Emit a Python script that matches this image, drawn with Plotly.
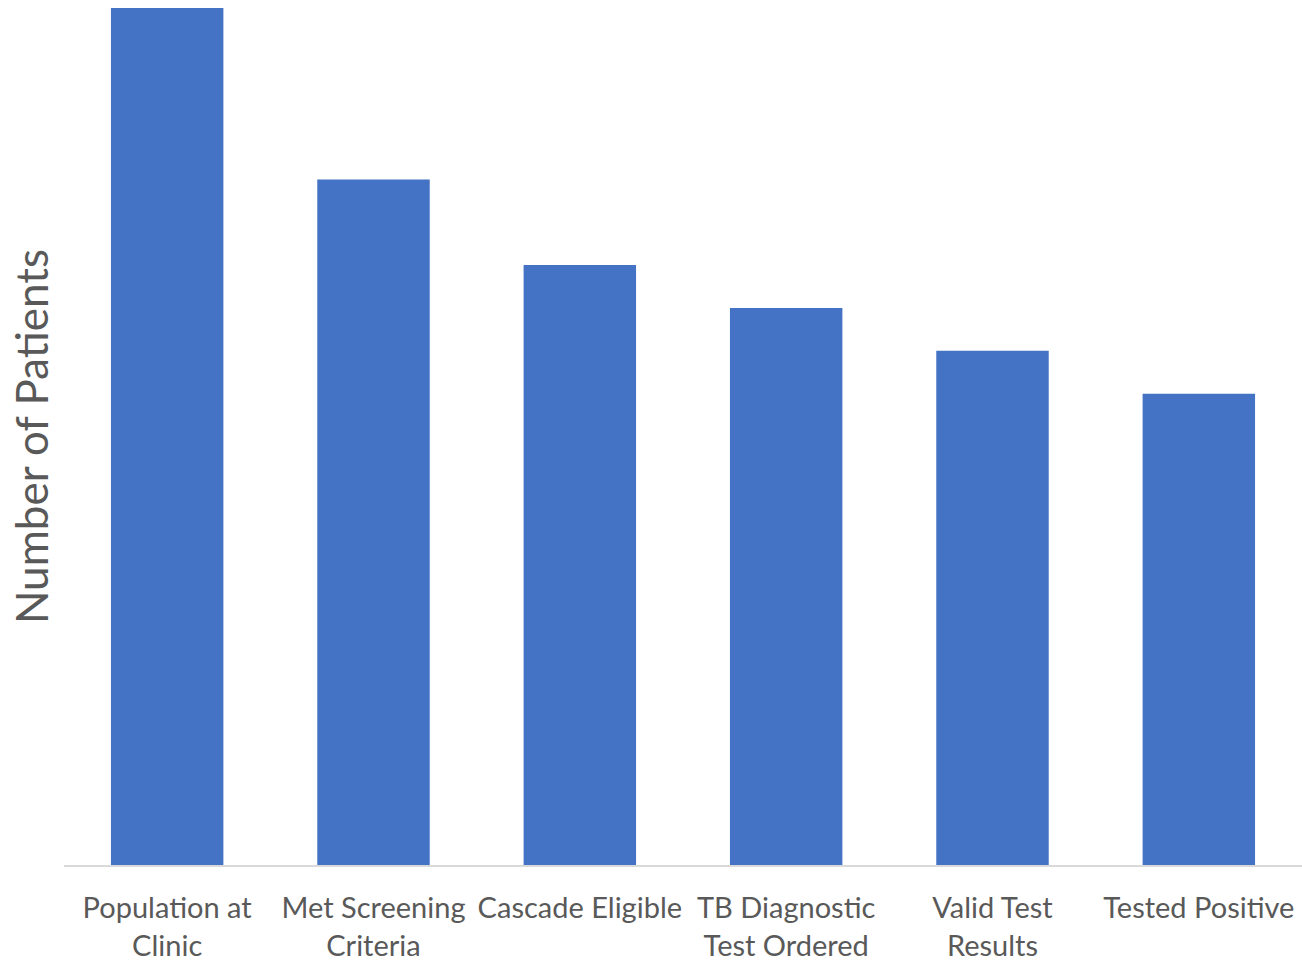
import plotly.graph_objects as go

# TB screening cascade: patients remaining at each step (relative scale)
stages = [
    "Population at<br>Clinic",
    "Met Screening<br>Criteria",
    "Cascade Eligible",
    "TB Diagnostic<br>Test Ordered",
    "Valid Test<br>Results",
    "Tested Positive",
]
patients = [100, 80, 70, 65, 60, 55]

bar_color = "#4472C4"
text_color = "#595959"
font_family = "Lato, 'Open Sans', sans-serif"

fig = go.Figure(
    go.Bar(
        x=stages,
        y=patients,
        marker=dict(color=bar_color, line=dict(width=0)),
        width=0.545,
    )
)

fig.update_layout(
    width=1302,
    height=960,
    margin=dict(l=64, r=0, t=8, b=95),
    plot_bgcolor="white",
    paper_bgcolor="white",
    showlegend=False,
    font=dict(family=font_family, color=text_color),
    bargap=0.455,
)

fig.update_xaxes(
    showline=True,
    linecolor="#D9D9D9",
    linewidth=2,
    showgrid=False,
    ticks="",
    automargin=False,
    tickfont=dict(size=29, color=text_color, family=font_family),
    ticklabelstandoff=16,
)

fig.update_yaxes(
    range=[0, 100],
    showgrid=False,
    zeroline=False,
    showticklabels=False,
    ticks="",
    automargin=False,
    title=dict(
        text="Number of Patients",
        font=dict(size=44, color=text_color, family=font_family),
        standoff=0,
    ),
)

fig.write_html("out.html")
